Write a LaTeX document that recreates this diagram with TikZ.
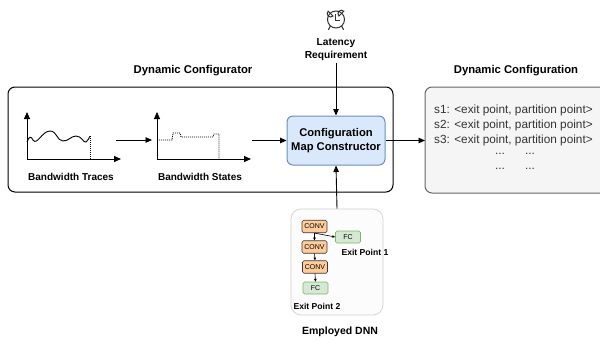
\documentclass[tikz,border=0pt]{standalone}
\usepackage{fontspec}
\setmainfont{Liberation Sans}
\usetikzlibrary{arrows.meta}
\definecolor{bluefill}{HTML}{DAE8FC}
\definecolor{blueline}{HTML}{6C8EBF}
\definecolor{grayfill}{HTML}{F5F5F5}
\definecolor{grayline}{HTML}{666666}
\definecolor{graytext}{HTML}{333333}
\definecolor{convfill}{HTML}{FFCC99}
\definecolor{convline}{HTML}{36393D}
\definecolor{fcfill}{HTML}{D5E8D4}
\definecolor{fcline}{HTML}{82B366}
\definecolor{dnnline}{HTML}{D0D0D0}
\definecolor{dnnfill}{HTML}{FCFCFC}
\tikzset{
  arr/.style={-{Triangle[length=6.5pt,width=5.5pt]}, line width=0.9pt, black},
  smallarr/.style={-{Triangle[length=2.8pt,width=2.4pt]}, line width=0.6pt, black},
  axis/.style={-{Triangle[length=7pt,width=6pt]}, line width=1pt, black},
  dotline/.style={line width=0.9pt, dash pattern=on 1pt off 1pt},
  title/.style={font=\fontsize{11.3}{13}\selectfont\bfseries, inner sep=0pt},
  lbl/.style={font=\fontsize{10}{12}\selectfont\bfseries, inner sep=0pt},
  cfgtext/.style={inner sep=0pt, text=graytext, font=\fontsize{11.8}{15}\selectfont},
  convbox/.style={draw=convline, fill=convfill, rounded corners=1.5pt, line width=0.6pt, minimum width=25pt, minimum height=12.5pt, inner sep=0pt, font=\fontsize{7}{8}\selectfont},
  fcbox/.style={draw=fcline, fill=fcfill, rounded corners=1.5pt, line width=0.6pt, minimum width=25pt, minimum height=12pt, inner sep=0pt, font=\fontsize{7}{8}\selectfont},
  clockline/.style={draw=black!80, line width=1pt},
}
\begin{document}
\begin{tikzpicture}[x=1pt,y=-1pt]
\useasboundingbox (0,0) rectangle (600,343);
\clip (0,0) rectangle (600,343);
% Dynamic Configurator outer box
\node[title] (t1) at (193,71) {Dynamic Configurator};
\draw[line width=1pt, rounded corners=7pt] (8,87) rectangle (393,192);
% Chart 1
\coordinate (o1) at (27,159);
\coordinate (y1) at (27,112);
\coordinate (x1) at (121,159);
\draw[axis] (o1) -- (y1);
\draw[axis] (o1) -- (x1);
\draw[line width=0.9pt] (27,142) .. controls (29,136) and (31,136) .. (33,140)
  .. controls (37,146) and (42,131) .. (50,131)
  .. controls (57,131) and (57,141) .. (63,141)
  .. controls (69,141) and (71,136) .. (76,136)
  .. controls (82,136) and (83,143) .. (86,142)
  .. controls (88,141) and (89,138) .. (90,136);
\draw[dotline] (90,136) -- (90,159);
\node[lbl] (l1) at (71,177) {Bandwidth Traces};
% arrow 1
\coordinate (a1s) at (116,140);
\coordinate (a1e) at (152,140);
\draw[arr] (a1s) -- (a1e);
% Chart 2
\coordinate (o2) at (157,159);
\coordinate (y2) at (157,112);
\coordinate (x2) at (251,159);
\draw[axis] (o2) -- (y2);
\draw[axis] (o2) -- (x2);
\draw[dotline] (157,140) -- (172,140) -- (173,133) -- (180,133) -- (181,137) -- (213,137) -- (214,134) -- (219,134) -- (219,159);
\node[lbl] (l2) at (200,177) {Bandwidth States};
% Config map constructor
\node[draw=blueline, fill=bluefill, line width=1pt, rounded corners=6pt, minimum width=98pt, minimum height=49pt, inner sep=0pt, align=center, font=\fontsize{11.2}{14}\selectfont\bfseries] (cmc) at (336,140.5) {Configuration\\Map Constructor};
\coordinate (a2s) at (252,140.5);
\draw[arr] (a2s) -- (cmc.west);
% Latency requirement
\node[inner sep=0pt, align=center, font=\fontsize{10.2}{13}\selectfont\bfseries] (lat) at (336,49.5) {Latency\\Requirement};
\coordinate (latb) at (336,63);
\draw[arr] (latb) -- (cmc.north);
% clock icon
\node[circle, clockline, minimum size=17pt, inner sep=0pt] (clk) at (336,19.5) {};
\draw[clockline] (328.2,11.2) arc (225:45:3.4) -- cycle;
\draw[clockline] (343.8,11.2) arc (-45:-225:3.4) -- cycle;
\draw[clockline, line cap=round] (330.5,26) -- (328.5,29.5);
\draw[clockline, line cap=round] (341.5,26) -- (343.5,29.5);
\draw[clockline] (335,14) -- (335,20.5) -- (340,20.5);
% Dynamic Configuration
\node[title] (t2) at (516,70.5) {Dynamic Configuration};
\draw[draw=grayline, fill=grayfill, line width=1pt, rounded corners=7pt] (425,87) rectangle (620,193);
\node[cfgtext, anchor=west, align=left] (cfg) at (434,125.5)
 {s1: <exit point, partition point>\\s2: <exit point, partition point>\\s3: <exit point, partition point>};
\node[cfgtext] (d1) at (500,154) {...};
\node[cfgtext] (d2) at (530,154) {...};
\node[cfgtext] (d3) at (500,169) {...};
\node[cfgtext] (d4) at (530,169) {...};
\coordinate (dcw) at (425,140.5);
\draw[arr] (cmc.east) -- (dcw);
% Employed DNN
\node[draw=dnnline, fill=dnnfill, line width=0.7pt, rounded corners=10pt, minimum width=92pt, minimum height=106pt, inner sep=0pt] (dnn) at (337,262) {};
\draw[arr] (dnn.north) -- (cmc.south);
\node[lbl, font=\fontsize{10.5}{12}\selectfont\bfseries] (l3) at (340,332) {Employed DNN};
\node[convbox] (c1) at (314.5,226.5) {CONV};
\node[convbox] (c2) at (314.5,247) {CONV};
\node[convbox] (c3) at (315,267) {CONV};
\node[fcbox] (f2) at (315.5,288) {FC};
\node[fcbox] (f1) at (348,237) {FC};
\draw[smallarr] (c1.south) -- (c2.north);
\draw[smallarr] (c1.south) -- (f1.west);
\draw[smallarr] (c2.south) -- (c3.north);
\draw[smallarr] (c3.south) -- (f2.north);
\node[inner sep=0pt, font=\fontsize{8.6}{10}\selectfont\bfseries] (e1) at (365,252) {Exit Point 1};
\node[inner sep=0pt, font=\fontsize{8.6}{10}\selectfont\bfseries] (e2) at (317,306) {Exit Point 2};
\end{tikzpicture}
\end{document}
